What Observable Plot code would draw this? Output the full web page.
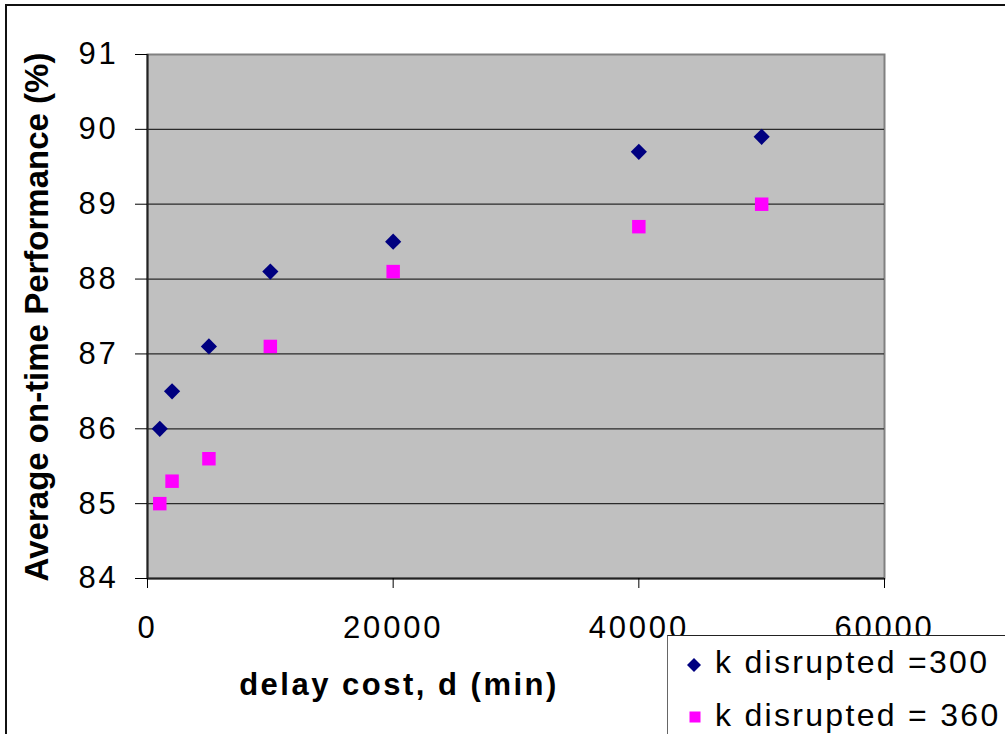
<!DOCTYPE html>
<html>
<head>
<meta charset="utf-8">
<script src="https://cdn.jsdelivr.net/npm/d3@7"></script>
<script src="https://cdn.jsdelivr.net/npm/@observablehq/plot@0.6"></script>
<style>
  html, body { margin: 0; padding: 0; background: #fff; overflow: hidden; }
  #wrap { position: relative; width: 1005px; height: 734px; overflow: hidden; font-family: "Liberation Sans", Arial, sans-serif; }
  #frame { position: absolute; left: 5px; top: 4px; width: 1100px; height: 800px; border-top: 2.5px solid #111; border-left: 2.5px solid #111; pointer-events: none; }
  #chart { position: absolute; left: 0; top: 0; }
  #legend { position: absolute; left: 667px; top: 635px; width: 400px; height: 200px; background: #fff; border-top: 1.5px solid #222; border-left: 1.5px solid #666; }
  #legend svg { position: absolute; }
  .item { position: absolute; font-size: 32px; letter-spacing: 2.3px; color: #000; white-space: nowrap; }
</style>
</head>
<body>
<div id="wrap">
  <div id="chart"></div>
  <div id="frame"></div>
  <div id="legend"></div>
</div>
<script>
// ---- data ----
const delayCost = [1000, 2000, 5000, 10000, 20000, 40000, 50000];
const perf300   = [86.0, 86.5, 87.1, 88.1, 88.5, 89.7, 89.9];
const perf360   = [85.0, 85.3, 85.6, 87.1, 88.1, 88.7, 89.0];
const seriesNames = ["k disrupted =300", "k disrupted = 360"];
const xTicks = [0, 20000, 40000, 60000];
const yTicks = [84, 85, 86, 87, 88, 89, 90, 91];
const xTitle = "delay cost, d (min)";
const yTitle = "Average on-time Performance (%)";

const s300 = delayCost.map((d, i) => ({d, p: perf300[i]}));
const s360 = delayCost.map((d, i) => ({d, p: perf360[i]}));

const plot = Plot.plot({
  width: 1005,
  height: 734,
  marginLeft: 147,
  marginRight: 121,
  marginTop: 54,
  marginBottom: 156,
  style: {fontFamily: '"Liberation Sans", Arial, sans-serif', fontSize: "31px", letterSpacing: "2.8px", color: "#000", background: "transparent"},
  x: {domain: [0, 60000], ticks: xTicks, tickFormat: d => String(d), tickSize: 10, tickPadding: 27, label: null},
  y: {domain: [84, 91], ticks: yTicks, tickFormat: d => String(d), tickSize: 12, tickPadding: 17, label: null},
  marks: [
    Plot.frame({fill: "#c0c0c0", stroke: "#808080", strokeWidth: 2}),
    Plot.ruleY(yTicks.filter(v => v > 84 && v < 91), {stroke: "#2a2a2a", strokeWidth: 1.3}),
    Plot.ruleY([84], {stroke: "#222", strokeWidth: 2}),
    Plot.ruleX([0], {stroke: "#222", strokeWidth: 2}),
    Plot.axisX({ticks: xTicks, tickFormat: d => String(d), tickSize: 10, tickPadding: 27, label: null, stroke: "#000"}),
    Plot.axisY({ticks: yTicks, tickFormat: d => String(d), tickSize: 12, tickPadding: 17, label: null, stroke: "#000"}),
    Plot.dot(s360, {x: "d", y: "p", symbol: "square", fill: "#ff00ff", stroke: "none", r: 7.6}),
    Plot.dot(s300, {x: "d", y: "p", symbol: "diamond2", fill: "#000080", stroke: "none", r: 7.3})
  ]
});
document.getElementById("chart").appendChild(plot);

const svg = d3.select(plot);
svg.append("text")
  .attr("transform", "translate(48,317) rotate(-90)")
  .attr("text-anchor", "middle")
  .attr("font-weight", "bold")
  .attr("font-size", 33)
  .style("letter-spacing", "0px")
  .attr("fill", "#000")
  .text(yTitle);
svg.append("text")
  .attr("x", 399)
  .attr("y", 695)
  .attr("text-anchor", "middle")
  .attr("font-weight", "bold")
  .attr("font-size", 31)
  .style("letter-spacing", "2.5px")
  .attr("fill", "#000")
  .text(xTitle);

// legend
const legend = document.getElementById("legend");
legend.insertAdjacentHTML("beforeend", '<svg width="16" height="16" viewBox="-8 -8 16 16" style="left:18px;top:21px"><path d="M0,-7L7,0L0,7L-7,0Z" fill="#000080"/></svg>');
legend.insertAdjacentHTML("beforeend", '<svg width="12" height="12" viewBox="-6 -6 12 12" style="left:21px;top:75px"><rect x="-5.5" y="-5.5" width="11" height="11" fill="#ff00ff"/></svg>');
legend.insertAdjacentHTML("beforeend", `<div class="item" style="left:47px;top:8px">${seriesNames[0]}</div>`);
legend.insertAdjacentHTML("beforeend", `<div class="item" style="left:47px;top:61px">${seriesNames[1]}</div>`);
</script>
</body>
</html>
